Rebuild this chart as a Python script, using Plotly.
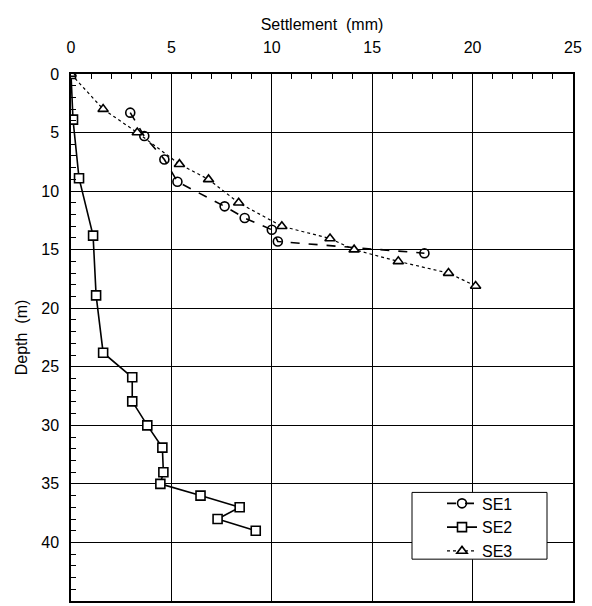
import plotly.graph_objects as go

se1_x = [2.95, 3.65, 4.65, 5.3, 7.65, 8.65, 10.0, 10.3, 17.6]
se1_y = [3.3, 5.3, 7.3, 9.2, 11.3, 12.3, 13.3, 14.3, 15.3]

se2_x = [0.0, 0.1, 0.4, 1.1, 1.25, 1.6, 3.05, 3.05, 3.8, 4.55, 4.6, 4.45, 6.45, 8.4, 7.3, 9.2]
se2_y = [0, 3.9, 8.9, 13.8, 18.9, 23.8, 25.9, 27.95, 30.0, 31.9, 34.0, 35.0, 36.0, 37.0, 38.0, 39.0]

se3_x = [0.0, 1.6, 3.3, 5.4, 6.85, 8.35, 10.5, 12.9, 14.1, 16.3, 18.8, 20.15]
se3_y = [0, 3.0, 5.0, 7.7, 9.0, 11.0, 13.0, 14.05, 15.0, 16.0, 17.0, 18.1]

fig = go.Figure()
fig.add_trace(go.Scatter(x=se1_x, y=se1_y, name="SE1", mode="lines+markers",
                         line=dict(color="black", width=1.6, dash="dash"),
                         marker=dict(symbol="circle-open", size=9, color="black",
                                     line=dict(color="black", width=1.6))))
fig.add_trace(go.Scatter(x=se2_x, y=se2_y, name="SE2", mode="lines+markers",
                         line=dict(color="black", width=1.6),
                         marker=dict(symbol="square", size=9, color="white",
                                     line=dict(color="black", width=1.6))))
fig.add_trace(go.Scatter(x=se3_x, y=se3_y, name="SE3", mode="lines+markers",
                         line=dict(color="black", width=1.2, dash="dot"),
                         marker=dict(symbol="triangle-up", size=9, color="white",
                                     line=dict(color="black", width=1.6))))

font = dict(family="Liberation Sans, Arial, sans-serif", size=16, color="black")

L, R, T, B = 71, 573, 74, 603
def px(x):
    return (x - L) / (R - L)
def py(y):
    return (B - y) / (B - T)

fig.update_layout(
    width=592, height=606,
    margin=dict(l=L, r=592 - R, t=T, b=606 - B),
    paper_bgcolor="white", plot_bgcolor="white",
    font=font,
    showlegend=True,
    legend=dict(x=px(442), y=py(488), xanchor="left", yanchor="top",
                borderwidth=0, bgcolor="rgba(0,0,0,0)",
                font=dict(family="Liberation Sans, Arial, sans-serif", size=16, color="black"),
                tracegroupgap=0),
    shapes=[dict(type="rect", xref="paper", yref="paper",
                 x0=px(412), x1=px(547), y0=py(561), y1=py(494),
                 line=dict(color="black", width=1), fillcolor="white", layer="above")],
)
fig.update_xaxes(
    side="top", range=[0, 25], dtick=5, tick0=0,
    showgrid=True, gridcolor="black", gridwidth=1,
    showline=True, linecolor="black", linewidth=1.5, mirror=True,
    ticks="", ticklen=0, zeroline=False, ticklabelstandoff=13,
    minor=dict(ticks="inside", dtick=1, ticklen=5, tickcolor="black", showgrid=False),
    title=dict(text="Settlement  (mm)", standoff=4, font=font),
    tickfont=font,
)
fig.update_yaxes(
    range=[45, 0], dtick=5, tick0=0,
    showgrid=True, gridcolor="black", gridwidth=1,
    showline=True, linecolor="black", linewidth=1.5, mirror=True,
    ticks="", ticklen=0, zeroline=False, ticklabelstandoff=7,
    minor=dict(ticks="inside", dtick=1, ticklen=5, tickcolor="black", showgrid=False),
    title=dict(text="Depth  (m)", standoff=10, font=font),
    tickfont=font,
)
fig.write_html("out.html")
